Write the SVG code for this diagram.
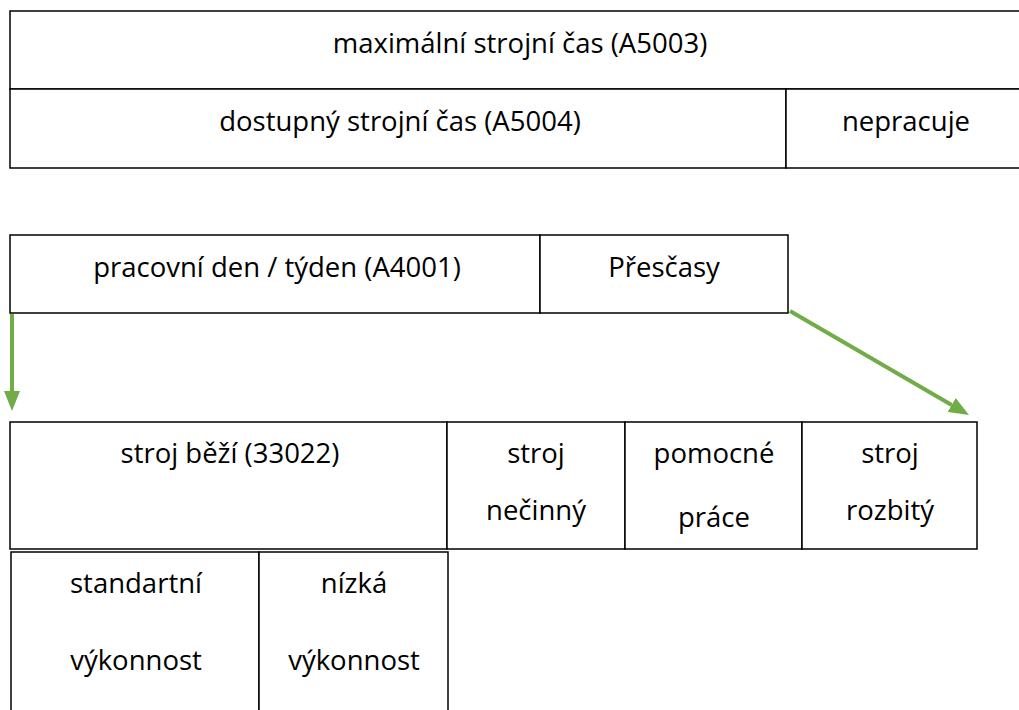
<svg xmlns="http://www.w3.org/2000/svg" width="1019" height="710" viewBox="0 0 1019 710">
<style>
.c{fill:#fff;stroke:#000;stroke-width:1.5}
.t{font-family:"Open Sans","Noto Sans","Liberation Sans",sans-serif;font-size:27.5px;fill:#000;text-anchor:middle}
.a{stroke:#70AD47;stroke-width:4;fill:none}
</style>
<defs>
<marker id="ah" markerWidth="20" markerHeight="16" refX="0" refY="8" orient="auto" markerUnits="userSpaceOnUse">
<path d="M0,0 L20,8 L0,16 z" fill="#70AD47"/>
</marker>
</defs>
<g id="max"><rect class="c" x="10" y="11" width="1015" height="78"/><text class="t" x="520" y="53">maximální strojní čas (A5003)</text></g>
<g id="dostupny"><rect class="c" x="10" y="89" width="776" height="79"/><text class="t" x="400" y="131">dostupný strojní čas (A5004)</text></g>
<g id="nepracuje"><rect class="c" x="786" y="89" width="239" height="79"/><text class="t" x="906" y="131">nepracuje</text></g>
<g id="pracovni"><rect class="c" x="10" y="235" width="530" height="78"/><text class="t" x="277" y="277">pracovní den / týden (A4001)</text></g>
<g id="prescasy"><rect class="c" x="540" y="235" width="248" height="78"/><text class="t" x="664" y="277">Přesčasy</text></g>
<g id="bezi"><rect class="c" x="10" y="422" width="437" height="127"/><text class="t" x="230" y="463">stroj běží (33022)</text></g>
<g id="necinny"><rect class="c" x="447" y="422" width="178" height="127"/><text class="t" x="536" y="463">stroj</text><text class="t" x="536" y="520">nečinný</text></g>
<g id="pomocne"><rect class="c" x="625" y="422" width="177" height="127"/><text class="t" x="714" y="463">pomocné</text><text class="t" x="714" y="527">práce</text></g>
<g id="rozbity"><rect class="c" x="802" y="422" width="175" height="127"/><text class="t" x="890" y="463">stroj</text><text class="t" x="890" y="520">rozbitý</text></g>
<g id="standartni"><rect class="c" x="11" y="552" width="248" height="170"/><text class="t" x="136" y="593">standartní</text><text class="t" x="136" y="670">výkonnost</text></g>
<g id="nizka"><rect class="c" x="259" y="552" width="189" height="170"/><text class="t" x="354" y="593">nízká</text><text class="t" x="354" y="670">výkonnost</text></g>
<g id="connectors">
<line class="a" x1="12" y1="314" x2="12" y2="391" marker-end="url(#ah)"/>
<line class="a" x1="790" y1="311" x2="951.7" y2="405" marker-end="url(#ah)"/>
</g>
</svg>
